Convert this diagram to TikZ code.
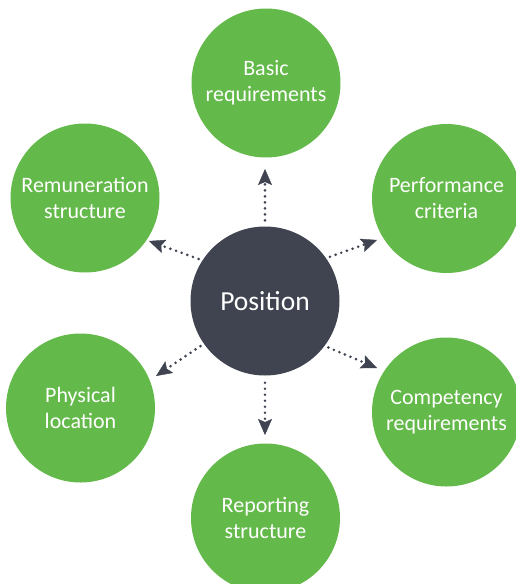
\documentclass[tikz,border=0pt]{standalone}
\usepackage{fontspec}
\setmainfont{Carlito}
\usetikzlibrary{arrows.meta}
\definecolor{cgreen}{RGB}{99,185,73}
\definecolor{cdark}{RGB}{63,68,80}
\begin{document}
\begin{tikzpicture}[x=1pt,y=-1pt,
  outer/.style={circle, fill=cgreen, minimum size=149pt, inner sep=0pt, align=center, text=white, font=\fontsize{22}{26}\selectfont},
  hub/.style={circle, fill=cdark, minimum size=149pt, inner sep=0pt, text=white, font=\fontsize{27.5}{32}\selectfont},
  link/.style={draw=cdark, line width=2.9pt, line cap=round, dash pattern=on 0pt off 6pt, shorten <=4pt,
    -{Stealth[length=16pt,width=14pt,inset=3pt,line width=0.4pt]}}
]
\useasboundingbox (0,0) rectangle (516,584);
\clip (0,0) rectangle (516,584);
\node[hub] (pos) at (265,301) {Position};
\node[outer] (basic) at (266,83) {Basic\\requirements};
\node[outer] (remu) at (85,198) {Remuneration\\structure};
\node[outer] (perf) at (446.5,198.5) {Performance\\criteria};
\node[outer] (phys) at (80.5,408) {Physical\\location};
\node[outer] (comp) at (446.5,412) {Competency\\requirements};
\node[outer] (repo) at (265.5,518) {Reporting\\structure};
\coordinate (tU) at (265,169);
\coordinate (tD) at (265,435);
\coordinate (tUL) at (149,241);
\coordinate (tUR) at (377,240);
\coordinate (tLL) at (156,376);
\coordinate (tLR) at (377,368);
\draw[link, shorten <=6pt] (pos.north) -- (tU);
\draw[link, shorten <=7pt] (pos.south) -- (tD);
\draw[link] (pos.147) -- (tUL);
\draw[link] (pos.35) -- (tUR);
\draw[link] (pos.215) -- (tLL);
\draw[link] (pos.-37) -- (tLR);
\end{tikzpicture}
\end{document}
